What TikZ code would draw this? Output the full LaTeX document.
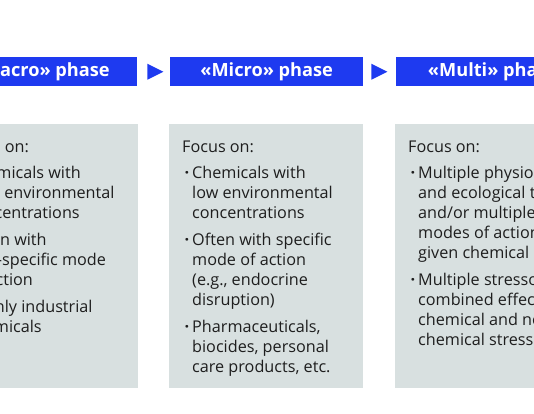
\documentclass[tikz,border=0pt]{standalone}
\usepackage{fontspec}
\setmainfont{Open Sans}
\usetikzlibrary{calc}
\definecolor{hdrblue}{RGB}{30,58,240}
\definecolor{boxgrey}{RGB}{216,224,224}
\definecolor{txtgrey}{RGB}{30,30,30}
\newcommand\bitem{\makebox[10pt][l]{\hspace{2.5pt}{\bfseries ·}}}
\newcommand\bcont{\hspace*{10pt}}
\begin{document}
\begin{tikzpicture}[x=1pt,y=-1pt,
  hdr/.style={fill=hdrblue, draw=none, minimum width=193pt, minimum height=29pt,
    inner sep=0pt, text=white, font=\fontsize{18.2}{20}\selectfont\bfseries, anchor=north west},
  panel/.style={fill=boxgrey, draw=none, minimum width=194pt, minimum height=264pt,
    inner sep=0pt, anchor=north west},
  body/.style={align=left, anchor=north west, inner sep=0pt, text=txtgrey,
    font=\fontsize{16.2}{20}\selectfont},
  tri/.style={fill=hdrblue}]
\useasboundingbox (0,0) rectangle (534,413);
\clip (0,0) rectangle (534,413);

% headers
\node[hdr] (h1) at (-56,57) {«Macro» phase};
\node[hdr] (h2) at (170,57) {«Micro» phase};
\node[hdr] (h3) at (396,57) {«Multi» phase};

% arrow markers
\fill[tri] ($(h1.east)+(10,-8)$) -- ($(h1.east)+(26,0)$) -- ($(h1.east)+(10,8)$) -- cycle;
\fill[tri] ($(h2.east)+(8,-8)$) -- ($(h2.east)+(24,0)$) -- ($(h2.east)+(8,8)$) -- cycle;

% panels
\node[panel] (p1) at (-56,124) {};
\node[panel] (p2) at (169,124) {};
\node[panel] (p3) at (395,124) {};

% texts
\node[body] (t1) at ($(p1.north west)+(13,17)$) {Focus on:\\[6pt]
\bitem Chemicals with\\
\bcont high environmental\\
\bcont concentrations\\[7pt]
\bitem Often with\\
\bcont non-specific mode\\
\bcont of action\\[7pt]
\bitem Mainly industrial\\
\bcont chemicals};

\node[body] (t2) at ($(p2.north west)+(13,17)$) {Focus on:\\[6pt]
\bitem Chemicals with\\
\bcont low environmental\\
\bcont concentrations\\[7pt]
\bitem Often with specific\\
\bcont mode of action\\
\bcont (e.g., endocrine\\
\bcont disruption)\\[7pt]
\bitem Pharmaceuticals,\\
\bcont biocides, personal\\
\bcont care products, etc.};

\node[body] (t3) at ($(p3.north west)+(13,17)$) {Focus on:\\[6pt]
\bitem Multiple physiological\\
\bcont and ecological targets\\
\bcont and/or multiple\\
\bcont modes of action of a\\
\bcont given chemical\\[7pt]
\bitem Multiple stressors:\\
\bcont combined effects of\\
\bcont chemical and non-\\
\bcont chemical stressors};
\end{tikzpicture}
\end{document}
